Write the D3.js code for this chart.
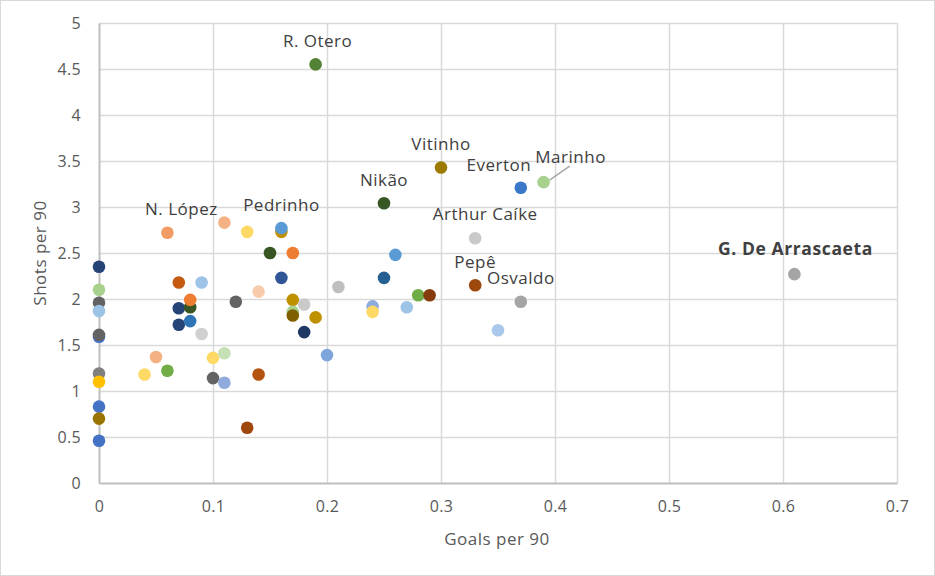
<!DOCTYPE html>
<html><head><meta charset="utf-8">
<script src="https://cdn.jsdelivr.net/npm/d3@7"></script>
<style>body{margin:0;background:#fff}svg{display:block}</style>
</head><body>
<svg id="c" width="935" height="576"></svg>
<script>
const names = ["","","","","","","","","","","","","","","N. López","","","","","","","","","","","","","","","","","","","","","Pedrinho","","","","","","","","R. Otero","","","","","","Nikão","","","","","","Vitinho","Arthur Caíke","Pepê","","Everton","Osvaldo","Marinho","G. De Arrascaeta"];
const goals = [0,0,0,0,0,0,0,0,0,0,0,0.04,0.05,0.06,0.06,0.07,0.07,0.07,0.08,0.08,0.08,0.09,0.09,0.10,0.10,0.11,0.11,0.11,0.12,0.13,0.13,0.14,0.14,0.15,0.16,0.16,0.16,0.17,0.17,0.17,0.17,0.18,0.18,0.19,0.19,0.20,0.21,0.24,0.24,0.25,0.25,0.26,0.27,0.28,0.29,0.30,0.33,0.33,0.35,0.37,0.37,0.39,0.61];
const shots = [2.35,2.10,1.96,1.87,1.59,1.61,1.19,1.10,0.83,0.70,0.46,1.18,1.37,1.22,2.72,2.18,1.90,1.72,1.91,1.99,1.76,2.18,1.62,1.36,1.14,1.41,1.09,2.83,1.97,2.73,0.60,2.08,1.18,2.50,2.73,2.77,2.23,2.50,1.99,1.86,1.82,1.94,1.64,4.55,1.80,1.39,2.13,1.92,1.86,3.04,2.23,2.48,1.91,2.04,2.04,3.43,2.66,2.15,1.66,3.21,1.97,3.27,2.27];
const palette = ["#264478","#a9d18e","#636363","#9dc3e6","#4472c4","#636363","#7f7f7f","#ffc000","#4472c4","#997300","#4472c4","#ffd966","#f4b183","#70ad47","#f19c65","#c55a11","#264478","#264478","#375623","#ed7d31","#2e75b6","#9dc3e6","#d0d0d0","#ffd966","#636363","#c5e0b4","#8faadc","#f4b183","#636363","#ffd966","#9e480e","#f8cbad","#b4520f","#375623","#bf9000","#5b9bd5","#2f5597","#ed7d31","#bf9000","#a9d18e","#7f6000","#c9c9c9","#203864","#548235","#bf9000","#7ea6dc","#bfbfbf","#8faadc","#ffd966","#375623","#255e91","#5b9bd5","#9dc3e6","#70ad47","#843c0c","#9c7a00","#c9c9c9","#9e480e","#a9c8eb","#3b78c9","#a5a5a5","#a9d18e","#a5a5a5"];
const xTicks = [0,0.1,0.2,0.3,0.4,0.5,0.6,0.7];
const yTicks = [0,0.5,1,1.5,2,2.5,3,3.5,4,4.5,5];
const xTitle = "Goals per 90", yTitle = "Shots per 90";
// label offsets relative to point (dx, dy)
const labelOffsets = {"Everton":[-22,-23],"Marinho":[27,-26],"G. De Arrascaeta":[1,-26],"Arthur Caíke":[10,-25],"N. López":[14,-24],"R. Otero":[2,-24]};

const svg = d3.select("#c");
svg.append("rect").attr("x",0.5).attr("y",0.5).attr("width",934).attr("height",575)
  .attr("fill","#fff").attr("stroke","#d9d9d9");
const x = d3.scaleLinear().domain([0,0.7]).range([99,897]);
const y = d3.scaleLinear().domain([0,5]).range([483,23]);
const font = "'Open Sans', 'Liberation Sans', sans-serif";

// gridlines
svg.append("g").selectAll("line").data(yTicks.slice(1)).join("line")
  .attr("x1",x(0)).attr("x2",x(0.7)).attr("y1",d=>Math.round(y(d))+0.5).attr("y2",d=>Math.round(y(d))+0.5)
  .attr("stroke","#d9d9d9").attr("stroke-width",1.5);
svg.append("g").selectAll("line").data(xTicks.slice(1)).join("line")
  .attr("y1",y(0)).attr("y2",y(5)).attr("x1",d=>Math.round(x(d))+0.5).attr("x2",d=>Math.round(x(d))+0.5)
  .attr("stroke","#d9d9d9").attr("stroke-width",1.5);
// axes
const xa = svg.append("g").attr("transform",`translate(0,${y(0)})`)
  .call(d3.axisBottom(x).tickValues(xTicks).tickSize(0).tickPadding(18).tickFormat(d=>d===0?"0":d3.format(".1f")(d)));
const ya = svg.append("g").attr("transform",`translate(${x(0)},0)`)
  .call(d3.axisLeft(y).tickValues(yTicks).tickSize(0).tickPadding(18).tickFormat(d=>String(d)));
[xa,ya].forEach(g=>{
  g.select(".domain").attr("stroke","#bfbfbf").attr("stroke-width",2);
  g.selectAll("text").attr("fill","#595959").attr("font-size",16).attr("font-family",font).attr("letter-spacing",0.3);
});
svg.append("text").attr("x",497).attr("y",538).attr("text-anchor","middle").attr("dominant-baseline","central")
  .attr("fill","#595959").attr("font-size",17).attr("letter-spacing",0.5).attr("font-family",font).text(xTitle);
svg.append("text").attr("transform","translate(39,253) rotate(-90)").attr("text-anchor","middle").attr("dominant-baseline","central")
  .attr("fill","#595959").attr("font-size",17).attr("letter-spacing",0.5).attr("font-family",font).text(yTitle);

const data = names.map((n,i)=>({name:n,g:goals[i],s:shots[i],c:palette[i]}));
// leader line for Marinho
const mar = data.find(d=>d.name==="Marinho");
svg.append("line").attr("x1",x(mar.g)+6).attr("y1",y(mar.s)-2).attr("x2",x(mar.g)+26).attr("y2",y(mar.s)-16)
  .attr("stroke","#a6a6a6").attr("stroke-width",1.5);

svg.append("g").selectAll("circle").data(data).join("circle")
  .attr("cx",d=>x(d.g)).attr("cy",d=>y(d.s)).attr("r",6.3).attr("fill",d=>d.c);

svg.append("g").selectAll("text").data(data.filter(d=>d.name)).join("text")
  .attr("x",d=>x(d.g)+(labelOffsets[d.name]||[0,-24])[0])
  .attr("y",d=>y(d.s)+(labelOffsets[d.name]||[0,-24])[1])
  .attr("text-anchor","middle").attr("dominant-baseline","central")
  .attr("font-family",font)
  .attr("font-size",d=>d.name==="G. De Arrascaeta"?17.5:17)
  .attr("letter-spacing",d=>d.name==="G. De Arrascaeta"?0.6:0.5)
  .attr("font-weight",d=>d.name==="G. De Arrascaeta"?"bold":"normal")
  .attr("fill","#404040").text(d=>d.name);
</script>
</body></html>
